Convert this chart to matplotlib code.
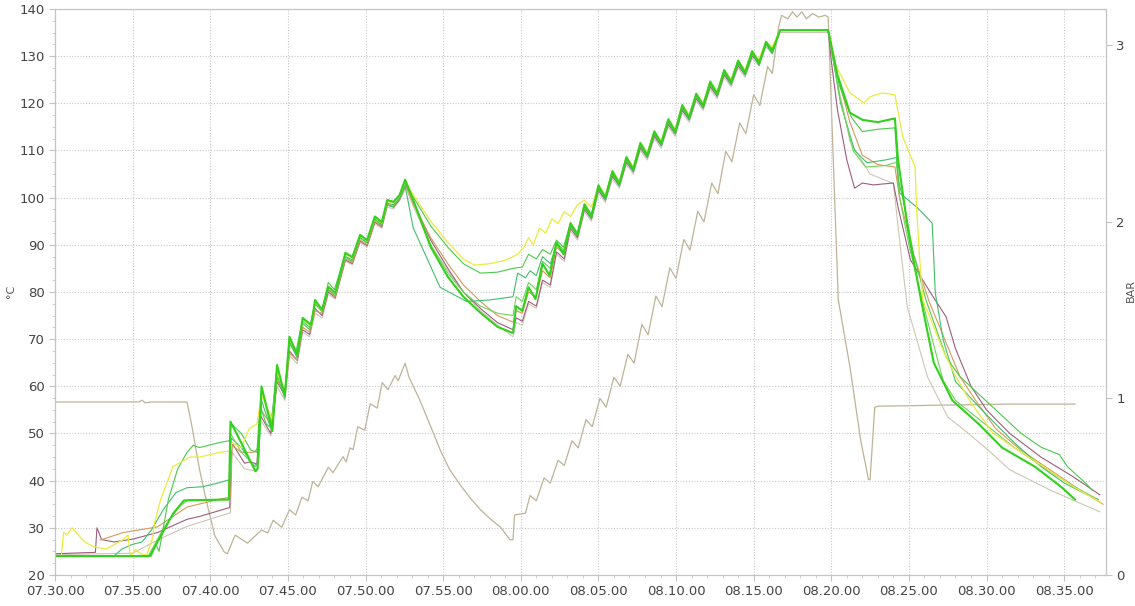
import matplotlib
matplotlib.use("Agg")
import matplotlib.pyplot as plt
import matplotlib.dates as mdates
from matplotlib.ticker import MultipleLocator, AutoMinorLocator
import pandas as pd

# log start time, all series are (minutes after start, value)
START = pd.Timestamp("2021-01-01 07:30:00")

# bright green probe (thick)
green_main = [
    (0, 24), (6.1, 24), (6.6, 27), (7.6, 33), (8.3, 35.8), (11.2, 36), (11.3, 52.5), (12.0, 48),
    (12.9, 42), (13.05, 42.5), (13.3, 60), (14.0, 50.5), (14.3, 64.5), (14.8, 58), (15.1, 70.5),
    (15.6, 66.7), (15.95, 74.5), (16.5, 73), (16.75, 78.3), (17.2, 76.2), (17.6, 81.1), (18.05, 79.8),
    (18.7, 88.3), (19.15, 87.4), (19.65, 92.1), (20.1, 91), (20.6, 96), (21.05, 94.8), (21.4, 99.5),
    (21.8, 99.1), (22.2, 100.6), (22.55, 103.8),
    (23.07, 99.5), (24.2, 89.5), (25.3, 83.2), (26.3, 79), (27.4, 75.6), (28.5, 72.6), (29.5, 71.3),
    (29.7, 77), (30.1, 76), (30.5, 81), (30.95, 78.5), (31.4, 86), (31.85, 83.5), (32.3, 90.5),
    (32.75, 88), (33.2, 94.5), (33.65, 92), (34.1, 98.5), (34.55, 96), (35.0, 102.5), (35.45, 100),
    (35.9, 105.5), (36.35, 103), (36.8, 108.5), (37.25, 106), (37.7, 111.5), (38.15, 109), (38.6, 114),
    (39.05, 111.5), (39.5, 116.5), (39.95, 114), (40.4, 119.5), (40.85, 117), (41.3, 122),
    (41.75, 119.5), (42.2, 124.5), (42.65, 122), (43.1, 127), (43.55, 124.5), (44.0, 129),
    (44.45, 126.5), (44.9, 131), (45.35, 128.5), (45.8, 133), (46.2, 131), (46.7, 135.5), (49.8, 135.5),
    (50.4, 126), (51.2, 118), (52.0, 116.5), (53.0, 116), (54.1, 116.8), (54.3, 108), (55.0, 92),
    (55.8, 78), (56.6, 65), (57.8, 57), (59.5, 52), (61.0, 47), (63.1, 43), (64.8, 38.7), (65.7, 36),
]

green_top = [
    (0, 24), (6.2, 24), (6.5, 26.5), (6.7, 25), (7.3, 36), (7.9, 42.5), (8.5, 46), (8.9, 47.5),
    (9.3, 47), (10.5, 48), (11.25, 48.5), (11.35, 52), (12.0, 50), (12.6, 46.5), (13.0, 46),
    (13.2, 56), (13.6, 52), (14.0, 51), (14.3, 62), (14.8, 59), (15.1, 69), (15.5, 67), (15.9, 73.5),
    (16.4, 72), (16.75, 77.5), (17.2, 76), (17.6, 82), (18.0, 80.5), (18.65, 87.5), (19.1, 86.5),
    (19.6, 91.5), (20.1, 90.5), (20.55, 95.5), (21.0, 94.5), (21.35, 98.5), (21.8, 98), (22.2, 100),
    (22.6, 103),
    (23.1, 100), (24.2, 94), (25.3, 89.5), (26.3, 86), (27.4, 84), (28.5, 84.2), (29.5, 85),
    (30.1, 85.3), (30.5, 88), (31.0, 87), (31.4, 89), (31.9, 88), (32.3, 91), (32.75, 89.5),
    (33.2, 94.5), (33.65, 92.5), (34.1, 98), (34.55, 96), (35.0, 102), (35.45, 100), (35.9, 105),
    (36.35, 103), (36.8, 108), (37.25, 106), (37.7, 111), (38.15, 109), (38.6, 113.5), (39.05, 111.5),
    (39.5, 116), (39.95, 114), (40.4, 119), (40.85, 117), (41.3, 121.5), (41.75, 119.5), (42.2, 124),
    (42.65, 122), (43.1, 126.5), (43.55, 124.5), (44.0, 128.5), (44.45, 126.5), (44.9, 130.5),
    (45.35, 129), (45.8, 132.5), (46.2, 131.5), (46.7, 135.5), (49.8, 135.5),
    (50.5, 124), (51.3, 117), (52.0, 114), (53.0, 114.5), (54.1, 114.8), (54.3, 104), (54.6, 100),
    (55.3, 88), (56.1, 78.3), (57.4, 66.2), (58.3, 62), (60.4, 55.6), (62.2, 50.1), (63.5, 47.1),
    (64.7, 45.5), (65.2, 43), (66.5, 39.1), (66.8, 38),
]

green_teal = [
    (0, 24), (3.8, 24), (4.3, 25.5), (5.0, 26.5), (5.6, 27), (6.2, 29.5), (7.0, 34), (7.8, 37.5),
    (8.5, 38.5), (9.5, 38.7), (10.5, 39.5), (11.25, 40.2), (11.35, 49), (12.0, 47), (12.8, 43),
    (13.1, 44), (13.3, 57), (13.9, 51), (14.25, 63), (14.8, 57.5), (15.1, 69.5), (15.6, 66),
    (15.95, 73.8), (16.4, 72.5), (16.75, 77.5), (17.2, 75.8), (17.6, 80.5), (18.05, 79.3),
    (18.7, 87.5), (19.15, 86.8), (19.65, 91.5), (20.1, 90.4), (20.6, 95.4), (21.05, 94.2),
    (21.4, 98.8), (21.8, 98.5), (22.2, 100), (22.55, 102.5),
    (23.07, 93.6), (24.8, 81), (26.5, 78), (28.0, 78.3), (29.5, 79), (29.8, 84), (30.3, 83),
    (30.6, 84.5), (31.0, 83.5), (31.4, 87.5), (31.9, 86), (32.3, 90), (32.8, 88.5), (33.2, 94),
    (33.65, 92), (34.1, 98), (34.55, 95.5), (35.0, 102), (35.45, 99.5), (35.9, 105), (36.35, 102.5),
    (36.8, 108), (37.25, 105.5), (37.7, 111), (38.15, 108.5), (38.6, 113.5), (39.05, 111), (39.5, 116),
    (39.95, 113.5), (40.4, 119), (40.85, 116.5), (41.3, 121.5), (41.75, 119), (42.2, 124),
    (42.65, 121.5), (43.1, 126.5), (43.55, 124), (44.0, 128.5), (44.45, 126), (44.9, 130.5),
    (45.35, 128), (45.8, 132.5), (46.2, 130.5), (46.7, 135.5), (49.8, 135.5),
    (50.6, 120), (51.5, 110), (52.3, 107.4), (53.5, 108), (54.2, 108.5), (54.4, 101), (55.5, 98),
    (56.5, 94.6), (56.7, 79.8), (57.2, 70), (58.0, 61), (59.9, 54.3), (61.8, 48), (63.5, 43),
    (65.0, 39.5), (66.5, 37), (67.2, 36),
]

green_light = [
    (0, 24), (6.0, 24), (7.0, 30), (8.0, 34.5), (8.6, 36), (11.2, 36), (11.3, 50), (12.0, 46),
    (12.9, 43), (13.1, 43.5), (13.3, 59), (14.0, 52), (14.3, 64), (14.8, 58.5), (15.1, 70),
    (15.6, 66.5), (15.95, 74.2), (16.5, 72.8), (16.75, 78), (17.2, 76), (17.6, 81), (18.05, 79.6),
    (18.7, 88), (19.15, 87.2), (19.65, 92), (20.1, 90.8), (20.6, 95.8), (21.05, 94.6), (21.4, 99.2),
    (21.8, 99), (22.2, 100.4), (22.6, 103.2),
    (23.1, 99), (24.2, 90), (25.3, 84), (26.3, 80), (27.4, 77), (28.5, 75.5), (29.5, 75), (29.7, 79),
    (30.1, 78), (30.5, 82), (31.0, 80.5), (31.4, 86.5), (31.9, 85), (32.3, 90.5), (32.8, 88.8),
    (33.2, 94.8), (33.65, 92.5), (34.1, 98.8), (34.55, 96.5), (35.0, 102.8), (35.45, 100.5),
    (35.9, 105.8), (36.35, 103.5), (36.8, 108.8), (37.25, 106.5), (37.7, 111.8), (38.15, 109.5),
    (38.6, 114.2), (39.05, 112), (39.5, 116.8), (39.95, 114.5), (40.4, 119.8), (40.85, 117.5),
    (41.3, 122.2), (41.75, 120), (42.2, 124.8), (42.65, 122.5), (43.1, 127.2), (43.55, 125),
    (44.0, 129.2), (44.45, 127), (44.9, 131.2), (45.35, 129), (45.8, 133.2), (46.2, 131.5),
    (46.7, 135.5), (49.8, 135.5),
    (50.5, 122), (51.4, 110), (52.2, 106.5), (53.5, 106.8), (54.2, 107.5), (54.4, 100), (55.0, 90),
    (55.8, 79), (56.5, 70), (57.2, 61.3), (58.0, 57), (59.9, 52), (61.8, 47), (63.8, 42.5),
    (65.5, 39), (66.9, 36.5),
]

yellow = [
    (0, 24), (0.4, 24), (0.55, 29), (0.75, 28.5), (1.1, 30), (1.5, 28.5), (1.9, 27), (2.5, 26),
    (3.3, 25.5), (4.4, 27.5), (4.7, 28.5), (4.85, 23.8), (5.2, 25.5), (5.5, 24.5), (5.9, 24.2),
    (6.3, 28), (6.4, 31), (6.8, 36), (7.6, 43), (8.7, 45), (9.3, 45), (10.6, 46), (11.3, 46.3),
    (11.4, 48), (12.0, 47), (12.5, 51), (13.0, 52), (13.3, 58), (14.0, 53), (14.3, 63), (14.8, 58.5),
    (15.1, 70), (15.6, 67), (15.95, 74), (16.5, 72.8), (16.75, 78), (17.2, 76), (17.6, 81),
    (18.05, 79.6), (18.7, 88), (19.15, 87.2), (19.65, 92), (20.1, 90.8), (20.6, 95.8), (21.05, 94.6),
    (21.4, 99.2), (21.8, 99), (22.2, 100.4), (22.55, 103.5),
    (23.1, 100.5), (24.2, 95), (25.3, 90.5), (26.3, 87), (27.0, 85.7), (28.0, 86), (29.0, 86.7),
    (29.8, 88), (30.2, 89.5), (30.5, 91.5), (30.8, 90), (31.2, 93.5), (31.6, 92.5), (32.0, 95.5),
    (32.4, 94.5), (32.8, 97), (33.2, 96), (33.65, 98.5), (34.1, 99.5), (34.55, 98), (35.0, 102.5),
    (35.45, 100.5), (35.9, 105.5), (36.35, 103.5), (36.8, 108.5), (37.25, 106.5), (37.7, 111.5),
    (38.15, 109.5), (38.6, 114), (39.05, 112), (39.5, 116.5), (39.95, 114.5), (40.4, 119.5),
    (40.85, 117.5), (41.3, 122), (41.75, 120), (42.2, 124.5), (42.65, 122.5), (43.1, 127),
    (43.55, 125), (44.0, 129), (44.45, 127), (44.9, 131), (45.35, 129.5), (45.8, 133), (46.2, 132),
    (46.7, 135.5), (49.8, 135.5),
    (50.3, 128), (51.2, 122.2), (52.1, 120.1), (52.5, 121.4), (53.3, 122.2), (54.1, 121.8),
    (54.6, 112.9), (55.4, 106.5), (55.5, 97.4), (55.7, 86.8), (55.9, 78.3), (57.2, 67.7),
    (57.9, 62.8), (59.0, 56.5), (60.4, 50.1), (62.0, 46.5), (63.7, 42.9), (65.6, 38.7), (67.4, 35.3),
]

purple = [
    (0, 24.5), (2.6, 24.8), (2.7, 30), (3.0, 27.5), (3.8, 27), (5.0, 27.6), (6.6, 29), (8.5, 31.8),
    (9.3, 32.4), (11.25, 34.3), (11.4, 48), (12.2, 43.7), (12.6, 44), (13.0, 43.5), (13.2, 54),
    (13.9, 50), (14.3, 61), (14.8, 58), (15.1, 67.5), (15.6, 65.5), (15.95, 72), (16.4, 71),
    (16.75, 76.5), (17.2, 75), (17.6, 80), (18.05, 78.8), (18.7, 86.8), (19.15, 86), (19.65, 90.8),
    (20.1, 89.8), (20.6, 94.8), (21.05, 93.8), (21.4, 98.5), (21.8, 98), (22.2, 99.6), (22.6, 102.8),
    (23.1, 99), (24.2, 91), (25.3, 85), (26.3, 80), (27.4, 76.5), (28.5, 73.5), (29.5, 72),
    (29.7, 74.5), (30.1, 73.8), (30.5, 78), (31.0, 77), (31.4, 82.5), (31.9, 81.5), (32.3, 88.5),
    (32.8, 87), (33.2, 93.5), (33.65, 91.5), (34.1, 97.5), (34.55, 95.5), (35.0, 101.5),
    (35.45, 99.5), (35.9, 104.5), (36.35, 102.5), (36.8, 107.5), (37.25, 105.5), (37.7, 110.5),
    (38.15, 108.5), (38.6, 113), (39.05, 111), (39.5, 115.5), (39.95, 113.5), (40.4, 118.5),
    (40.85, 116.5), (41.3, 121), (41.75, 119), (42.2, 123.5), (42.65, 121.5), (43.1, 126),
    (43.55, 124), (44.0, 128), (44.45, 126), (44.9, 130), (45.35, 128.5), (45.8, 132.5), (46.2, 131),
    (46.7, 135.5), (49.8, 135.5),
    (50.0, 129), (50.4, 118.6), (51.0, 108), (51.5, 102), (52.0, 103.1), (52.7, 102.7), (54.0, 103.1),
    (54.3, 98), (55.1, 86.8), (56.4, 79.8), (57.4, 74.7), (58.0, 68), (59.0, 60), (60.0, 55),
    (61.5, 50), (63.5, 45), (65.5, 41), (67.3, 37),
]

orange = [
    (2.9, 27.4), (4.4, 29), (6.6, 30.2), (8.5, 34.4), (10.5, 36), (11.3, 36.5), (11.4, 47.5),
    (12.0, 46), (12.8, 46), (13.1, 47), (13.25, 55), (13.9, 52), (14.3, 61.5), (14.8, 58), (15.1, 67),
    (15.6, 65.5), (15.95, 72.5), (16.4, 71.5), (16.75, 76), (17.2, 75.5), (17.6, 80.5), (18.05, 79),
    (18.7, 87), (19.15, 86.2), (19.65, 91), (20.1, 90), (20.6, 95), (21.05, 94), (21.4, 98.6),
    (21.8, 98.2), (22.2, 99.8), (22.6, 102.5),
    (23.1, 98.5), (24.2, 91.5), (25.3, 86), (26.3, 81.5), (27.4, 78), (28.5, 75), (29.5, 73.6),
    (29.7, 76), (30.1, 75.5), (30.5, 80), (31.0, 79), (31.4, 84.5), (31.9, 83), (32.3, 89.5),
    (32.8, 88), (33.2, 94), (33.65, 92), (34.1, 98), (34.55, 96), (35.0, 102), (35.45, 100),
    (35.9, 105), (36.35, 103), (36.8, 108), (37.25, 106), (37.7, 111), (38.15, 109), (38.6, 113.5),
    (39.05, 111.5), (39.5, 116), (39.95, 114), (40.4, 119), (40.85, 117), (41.3, 121.5),
    (41.75, 119.5), (42.2, 124), (42.65, 122), (43.1, 126.5), (43.55, 124.5), (44.0, 128.5),
    (44.45, 126.5), (44.9, 130.5), (45.35, 129), (45.8, 133), (46.2, 131.5), (46.7, 135.5),
    (49.8, 135.5),
    (50.4, 126), (51.2, 116), (52.0, 109), (53.0, 107), (54.1, 106.5), (54.4, 100), (55.3, 88),
    (56.3, 78), (57.3, 70), (58.3, 62), (59.3, 57), (60.6, 51), (62.2, 46.5), (64.0, 42.5),
    (65.8, 38.5), (67.5, 35),
]

grey_probe = [
    (0, 24.3), (3.0, 24.5), (5.0, 24.6), (6.6, 27.4), (8.5, 30.3), (11.3, 33.2), (11.4, 46),
    (12.2, 42.5), (13.0, 42), (13.2, 53), (13.9, 49.5), (14.3, 60), (14.8, 57), (15.1, 66.5),
    (15.6, 64.8), (15.95, 71.5), (16.4, 70.5), (16.75, 75.5), (17.2, 74.5), (17.6, 79.5),
    (18.05, 78.5), (18.7, 86.5), (19.15, 85.8), (19.65, 90.5), (20.1, 89.5), (20.6, 94.5),
    (21.05, 93.5), (21.4, 98), (21.8, 97.6), (22.2, 99.4), (22.6, 102),
    (23.1, 98), (24.2, 90), (25.3, 84.5), (26.3, 80), (27.4, 76), (28.5, 73), (29.5, 70.5),
    (29.7, 73.5), (30.1, 73), (30.5, 77.5), (31.0, 76.5), (31.4, 82), (31.9, 81), (32.3, 88),
    (32.8, 86.5), (33.2, 93), (33.65, 91), (34.1, 97), (34.55, 95), (35.0, 101), (35.45, 99),
    (35.9, 104), (36.35, 102), (36.8, 107), (37.25, 105), (37.7, 110), (38.15, 108), (38.6, 112.5),
    (39.05, 110.5), (39.5, 115), (39.95, 113), (40.4, 118), (40.85, 116), (41.3, 120.5),
    (41.75, 118.5), (42.2, 123), (42.65, 121), (43.1, 125.5), (43.55, 123.5), (44.0, 127.5),
    (44.45, 125.5), (44.9, 129.5), (45.35, 128), (45.8, 132), (46.2, 130.5), (46.7, 135), (49.8, 135),
    (50.3, 126), (51.2, 112), (52.5, 105), (54.0, 103), (54.5, 88), (54.9, 76.8), (56.2, 62),
    (57.5, 53.5), (58.8, 50.1), (60.1, 46.5), (61.5, 42.3), (64.1, 38), (67.3, 33.4),
]

# pressure, right axis (bar)
pressure = [
    (0, 0.98), (5.4, 0.98), (5.6, 0.99), (5.8, 0.975), (6.2, 0.98), (8.5, 0.98), (8.8, 0.85),
    (9.3, 0.6), (9.8, 0.4), (10.3, 0.22), (10.9, 0.13), (11.1, 0.12), (11.6, 0.226), (12.4, 0.18),
    (13.3, 0.255), (13.7, 0.238), (14.05, 0.31), (14.6, 0.27), (15.1, 0.37), (15.5, 0.34),
    (15.9, 0.44), (16.3, 0.42), (16.6, 0.53), (16.95, 0.5), (17.6, 0.61), (17.9, 0.58), (18.55, 0.67),
    (18.75, 0.64), (19.0, 0.72), (19.2, 0.71), (19.5, 0.84), (19.95, 0.82), (20.3, 0.97),
    (20.75, 0.945), (21.07, 1.09), (21.45, 1.05), (21.9, 1.13), (22.1, 1.1), (22.55, 1.2),
    (22.8, 1.12), (23.5, 0.99), (24.2, 0.84), (24.8, 0.71), (25.4, 0.6), (26.1, 0.51), (26.8, 0.43),
    (27.4, 0.37), (28.0, 0.32), (28.7, 0.27), (29.3, 0.2), (29.5, 0.2), (29.6, 0.34), (30.3, 0.35),
    (30.6, 0.45), (31.0, 0.42), (31.5, 0.55), (31.9, 0.52), (32.4, 0.65), (32.8, 0.62), (33.3, 0.76),
    (33.7, 0.72), (34.2, 0.88), (34.6, 0.84), (35.1, 1.0), (35.5, 0.95), (36.0, 1.12), (36.4, 1.07),
    (36.9, 1.25), (37.3, 1.2), (37.8, 1.42), (38.2, 1.36), (38.7, 1.58), (39.1, 1.52), (39.6, 1.74),
    (40.0, 1.68), (40.5, 1.9), (40.9, 1.84), (41.4, 2.06), (41.8, 2.0), (42.3, 2.22), (42.7, 2.16),
    (43.2, 2.4), (43.6, 2.34), (44.1, 2.56), (44.5, 2.5), (45.0, 2.72), (45.4, 2.66), (45.9, 2.88),
    (46.2, 2.84), (46.6, 3.1), (46.8, 3.17), (47.2, 3.15), (47.5, 3.19), (47.8, 3.16), (48.1, 3.19),
    (48.4, 3.15), (48.8, 3.18), (49.2, 3.16), (49.6, 3.17), (49.8, 3.16),
    (50.45, 1.56), (51.2, 1.18), (51.9, 0.76), (52.4, 0.54), (52.5, 0.54), (52.8, 0.95),
    (53.0, 0.956), (61.5, 0.968), (65.7, 0.968),
]


def split(pts):
    """turn (minutes, value) pairs into timestamps and values"""
    mins = [p[0] for p in pts]
    vals = [p[1] for p in pts]
    return START + pd.to_timedelta(mins, unit="min"), vals


fig = plt.figure(figsize=(11.35, 6.06), dpi=100)
ax = fig.add_axes([0.0485, 0.0512, 0.926, 0.934])
ax2 = ax.twinx()

# pressure first, underneath
t, v = split(pressure)
ax2.plot(t, v, color="#bdb396", lw=0.9)

temps = [
    (grey_probe, "#cdc6b6", 0.8),
    (purple, "#9c5d7c", 0.8),
    (orange, "#d49a5a", 0.8),
    (green_teal, "#3fc06c", 0.8),
    (green_light, "#6ed45a", 0.8),
    (green_top, "#4cc94a", 0.8),
    (yellow, "#ebea3e", 0.9),
    (green_main, "#33d01c", 1.5),
]
for pts, col, lw in temps:
    t, v = split(pts)
    ax.plot(t, v, color=col, lw=lw)

ax.set_zorder(ax2.get_zorder() + 1)
ax.patch.set_visible(False)

ax.set_xlim(START, START + pd.Timedelta(minutes=67.7))
ax.set_ylim(20, 140)
ax2.set_ylim(0, 3.206)

ax.xaxis.set_major_locator(mdates.MinuteLocator(byminute=range(0, 60, 5)))
ax.xaxis.set_minor_locator(mdates.MinuteLocator())
ax.xaxis.set_major_formatter(mdates.DateFormatter("%H.%M.%S"))
ax.yaxis.set_major_locator(MultipleLocator(10))
ax.yaxis.set_minor_locator(AutoMinorLocator(4))
ax2.set_yticks([0, 1, 2, 3])

ax.grid(True, which="major", color="#c8c8c8", linestyle=(0, (1, 1.5)), lw=0.8)

for a in (ax, ax2):
    for s in a.spines.values():
        s.set_color("#c4c4c4")
    a.tick_params(which="both", colors="#c4c4c4", labelcolor="#444444", labelsize=9.5)
    a.tick_params(which="major", length=4)
    a.tick_params(which="minor", length=2.5)

fig.text(0.010, 0.52, "°C", rotation=90, fontsize=8, color="#555555", va="center", ha="center")
fig.text(0.996, 0.52, "BAR", rotation=90, fontsize=8, color="#555555", va="center", ha="center")

fig.savefig("out.png", dpi=100)
